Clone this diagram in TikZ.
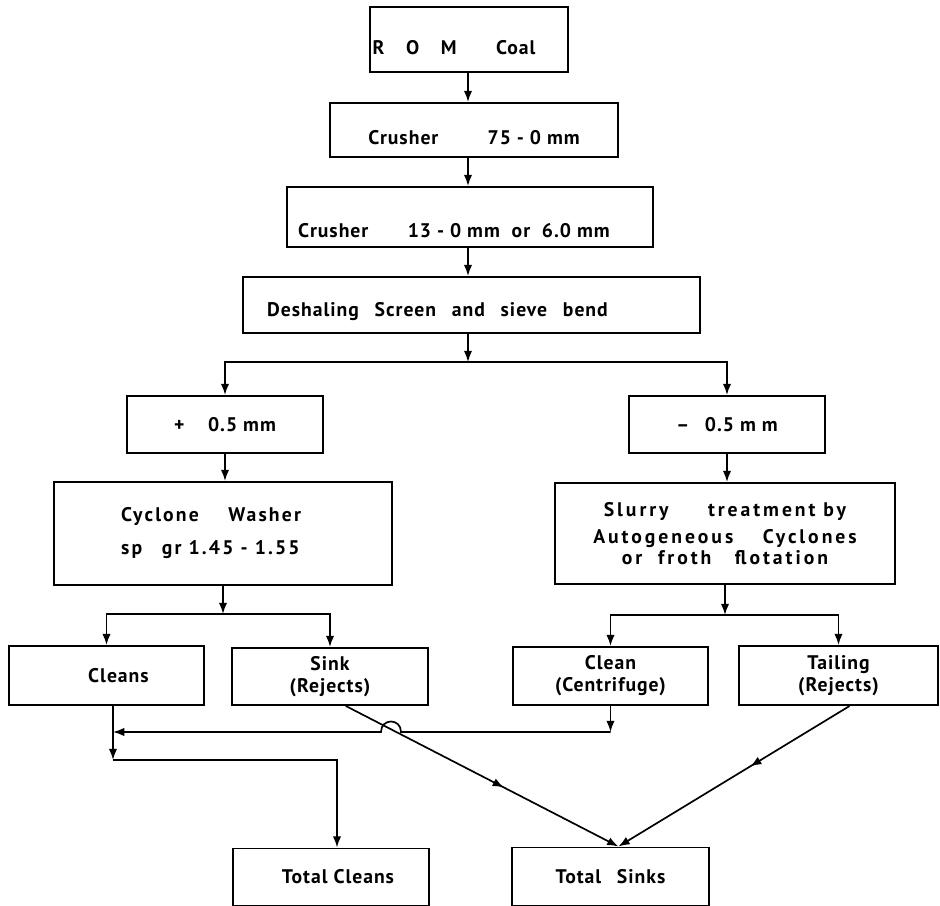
\documentclass[tikz,border=0pt]{standalone}
\usepackage{fontspec}
\setmainfont[LetterSpace=5]{PT Sans}
\newfontfamily\cyclonefont[LetterSpace=11]{PT Sans}
\newfontfamily\slurryfont[LetterSpace=15]{PT Sans}
\usetikzlibrary{arrows.meta,decorations.markings,calc}

\tikzset{
	box/.style={draw, line width=1.4pt, inner sep=0pt, align=center,
		font=\fontsize{14}{15.5}\selectfont\bfseries},
	lowered/.style={text height=#1},
	flow/.style={line width=1.2pt, -{Latex[length=8pt,width=6pt]}},
	link/.style={line width=1.2pt},
	midflow/.style={line width=1.2pt, -{Latex[length=8pt,width=6pt]},
		decoration={markings,
			mark=at position #1 with {\arrow{Latex[length=8pt,width=6pt]}}},
		postaction={decorate}}
}

\begin{document}
\begin{tikzpicture}[x=0.025cm, y=-0.025cm]
	\useasboundingbox (0,0) rectangle (940,906);

	% process boxes
	\node[box, lowered=22pt, minimum width=4.95cm, minimum height=1.625cm] (rom) at (469,39.5)
		{R\hspace{1.1em}O\hspace{1.1em}M\hspace{2em}Coal\hspace*{0.75cm}};
	\node[box, lowered=21pt, minimum width=7.2cm, minimum height=1.35cm] (crusha) at (474,130)
		{Crusher\hspace{2.5em}75 - 0 mm};
	\node[box, lowered=29pt, minimum width=9.15cm, minimum height=1.5cm] (crushb) at (470,217)
		{Crusher\hspace{2em}13 - 0 mm\hspace{0.6em}or\hspace{0.6em}6.0 mm\hspace*{0.8cm}};
	\node[box, lowered=20pt, minimum width=11.425cm, minimum height=1.4cm] (deshale) at (471.5,305)
		{Deshaling\hspace{0.8em}Screen\hspace{0.8em}and\hspace{0.8em}sieve\hspace{0.8em}bend\hspace*{1.7cm}};

	\node[box, minimum width=4.9cm, minimum height=1.425cm] (plus) at (225,424.5)
		{+\hspace{1.2em}0.5 mm};
	\node[box, minimum width=4.9cm, minimum height=1.425cm] (minus) at (727,424.5)
		{\textendash\hspace{0.8em}0.5 m m};

	\node[box, font=\fontsize{14}{15.5}\cyclonefont\bfseries,
		minimum width=8.45cm, minimum height=2.575cm, align=left] (cyclone) at (223,533.5)
		{Cyclone\hspace{1.5em}Washer\hspace*{0.6cm}\\[8pt]sp\hspace{1em}gr 1.45 - 1.55};
	\node[box, font=\fontsize{14}{15.5}\slurryfont\bfseries,
		minimum width=8.475cm, minimum height=2.525cm] (slurry) at (725,533.5)
		{Slurry\hspace{2em}treatment by\\[3.5pt]
		Autogeneous\hspace{1.5em}Cyclones\\[-0.5pt]
		or\hspace{0.8em}froth\hspace{1.2em}flotation};

	\node[box, minimum width=4.875cm, minimum height=1.475cm] (cleans) at (106.5,675.5)
		{\hspace*{0.6cm}Cleans};
	\node[box, minimum width=4.9cm, minimum height=1.425cm] (sink) at (330,676.5)
		{Sink\\(Rejects)};
	\node[box, minimum width=4.875cm, minimum height=1.45cm] (centrif) at (610.5,676)
		{Clean\\(Centrifuge)};
	\node[box, minimum width=4.975cm, minimum height=1.475cm] (tailing) at (838.5,675.5)
		{Tailing\\(Rejects)};

	\node[box, minimum width=4.9cm, minimum height=1.425cm] (totcl) at (331,877)
		{\hspace*{0.35cm}Total Cleans};
	\node[box, minimum width=4.9cm, minimum height=1.45cm] (totsk) at (610.5,876.5)
		{Total\hspace{0.8em}Sinks};

	% junctions
	\coordinate (split) at (468,362);
	\coordinate (lsplit) at (223,614);
	\coordinate (rsplit) at (725,615);
	\coordinate (cjoin) at (113,732);
	\coordinate (hop) at (391,732);
	\coordinate (cturn) at (113,760);
	\coordinate (tcturn) at (337,760);

	% main line
	\draw[flow] (rom.south -| split) -- (crusha.north -| split);
	\draw[flow] (crusha.south -| split) -- (crushb.north -| split);
	\draw[flow] (crushb.south -| split) -- (deshale.north -| split);
	\draw[flow] (deshale.south -| split) -- (split);
	\draw[flow] (split) -| (plus.north);
	\draw[flow] (split) -| (minus.north);
	\draw[flow] (plus.south) -- (plus.south |- cyclone.north);
	\draw[flow] (minus.south) -- (minus.south |- slurry.north);

	\draw[flow] (cyclone.south) -- (lsplit);
	\draw[flow] (lsplit) -| (cleans.north);
	\draw[flow] (lsplit) -| (sink.north);
	\draw[flow] (slurry.south) -- (rsplit);
	\draw[flow] (rsplit) -| (centrif.north);
	\draw[flow] (rsplit) -| (tailing.north);

	% cleans
	\draw[flow] (centrif.south) -- (centrif.south |- cjoin);
	\draw[flow] (centrif.south |- cjoin) -- ($(hop)+(10,0)$)
		.. controls ($(hop)+(10,-14)$) and ($(hop)+(-10,-14)$) .. ($(hop)+(-10,0)$)
		-- (cjoin);
	\draw[link] (cleans.south -| cjoin) -- (cjoin);
	\draw[flow] (cjoin) -- (cturn);
	\draw[flow] (cturn) -- (tcturn) -- (totcl.north -| tcturn);

	% sinks
	\draw[midflow=0.58] ($(sink.south)!0.16!(sink.south east)$)
		-- ($(totsk.north)!0.08!(totsk.north east)$);
	\draw[midflow=0.43] ($(tailing.south)!0.11!(tailing.south east)$)
		-- ($(totsk.north)!0.08!(totsk.north east)$);
\end{tikzpicture}
\end{document}
